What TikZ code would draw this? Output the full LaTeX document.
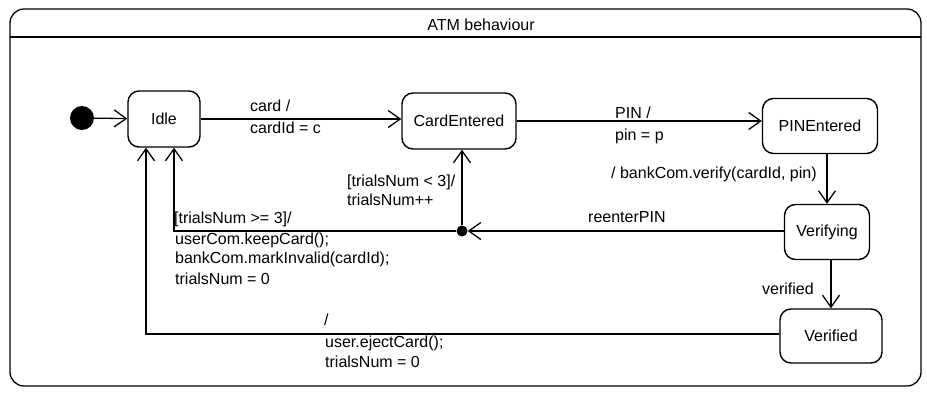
\documentclass[tikz,border=0pt]{standalone}
\usepackage{fontspec}
\setmainfont{Liberation Sans}
\usetikzlibrary{arrows.meta}
\begin{document}
\begin{tikzpicture}[x=1pt,y=-1pt,
  every node/.style={font=\fontsize{16}{20}\selectfont},
  state/.style={draw, line width=1.4pt, rounded corners=11pt, inner sep=0pt},
  lbl/.style={anchor=west, inner sep=0pt},
  arr/.style={line width=1.3pt, -{Straight Barb[length=12pt,width=17pt,line width=1.3pt]}},
  ln/.style={line width=1.3pt}]
\useasboundingbox (0,0) rectangle (927,397);
% frame
\draw[line width=1.3pt, rounded corners=14pt] (10,9) rectangle (921,386);
\coordinate (tl) at (10,37);
\coordinate (tr) at (921,37);
\draw[line width=1.3pt] (tl) -- (tr);
\node (title) at (481,25) {ATM behaviour};
% states
\node[circle, fill, inner sep=0pt, minimum size=24pt] (init) at (82,118) {};
\node[state, minimum width=72pt, minimum height=56pt] (idle) at (164,119) {Idle};
\node[state, minimum width=114pt, minimum height=56pt] (card) at (459,121) {CardEntered};
\node[state, minimum width=115pt, minimum height=55pt] (pin) at (820,126) {PINEntered};
\node[state, minimum width=85pt, minimum height=55pt] (ver) at (827,232) {Verifying};
\node[state, minimum width=102pt, minimum height=54pt] (vfd) at (831,336) {Verified};
\node[circle, fill, inner sep=0pt, minimum size=11pt] (jn) at (462,231) {};
% transitions
\draw[arr] (init) -- (idle);
\draw[arr] (idle.east) -- (idle.east -| card.west);
\draw[arr] (card.east) -- (card.east -| pin.west);
\draw[arr] (ver.north |- pin.south) -- (ver.north);
\draw[arr] (ver.west |- jn) -- (jn);
\draw[arr] (jn) -- (jn |- card.south);
\coordinate (c1) at (174,231);
\draw[arr] (jn) -- (c1) -- (c1 |- idle.south);
\draw[arr] (vfd.south |- ver.south) -- (vfd.north);
\coordinate (c2) at (146,334);
\draw[arr] (vfd.west |- c2) -- (c2) -- (c2 |- idle.south);
% labels
\node[lbl] (l1a) at (250,106) {card /};
\node[lbl] (l1b) at (250,128) {cardId = c};
\node[lbl] (l2a) at (615,113) {PIN /};
\node[lbl] (l2b) at (615,136) {pin = p};
\node[lbl] (l3) at (611,174) {/ bankCom.verify(cardId, pin)};
\node[lbl] (l4) at (588,217) {reenterPIN};
\node[lbl] (l5a) at (347,182) {[trialsNum < 3]/};
\node[lbl] (l5b) at (347,200) {trialsNum++};
\node[lbl] (l6a) at (174,219) {[trialsNum >= 3]/};
\node[lbl] (l6b) at (175,240) {userCom.keepCard();};
\node[lbl] (l6c) at (175,259) {bankCom.markInvalid(cardId);};
\node[lbl] (l6d) at (175,279) {trialsNum = 0};
\node[lbl] (l7) at (762,289) {verified};
\node[lbl] (l8a) at (324,320) {/};
\node[lbl] (l8b) at (325,343) {user.ejectCard();};
\node[lbl] (l8c) at (325,362) {trialsNum = 0};
\end{tikzpicture}
\end{document}
